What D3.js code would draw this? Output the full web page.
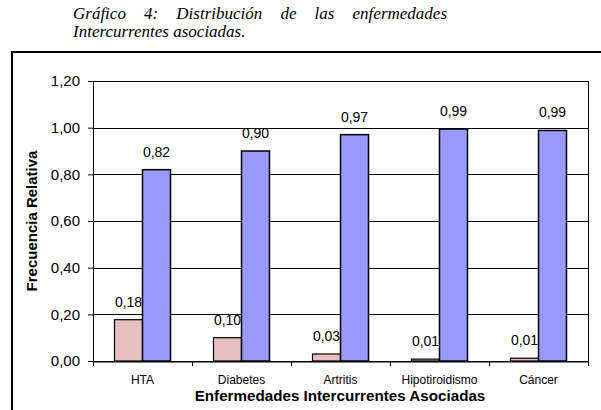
<!DOCTYPE html>
<html>
<head>
<meta charset="utf-8">
<script src="https://cdn.jsdelivr.net/npm/d3@7"></script>
<style>
  body { margin: 0; background: #fff; }
  svg { display: block; }
  .sans { font-family: Arial, "Liberation Sans", Helvetica, sans-serif; }
  .serif { font-family: "Times New Roman", "Liberation Serif", Times, serif; font-style: italic; }
</style>
</head>
<body>
<svg id="chart" width="601" height="410"></svg>
<script>
// datos del gráfico
var categorias = ["HTA", "Diabetes", "Artritis", "Hipotiroidismo", "Cáncer"];
var serieA = [0.177, 0.10, 0.03, 0.008, 0.012];
var serieB = [0.82, 0.90, 0.97, 0.994, 0.988];
var yTicks = [0, 0.2, 0.4, 0.6, 0.8, 1.0, 1.2];
var tituloLinea1 = ["Gráfico", "4:", "Distribución", "de", "las", "enfermedades"];
var tituloLinea2 = "Intercurrentes asociadas.";

var svg = d3.select("#chart"),
    margin = {top: 81, right: 13, bottom: 49, left: 93},
    width = +svg.attr("width") - margin.left - margin.right,
    height = +svg.attr("height") - margin.top - margin.bottom;

// titulo (justificado)
var t1 = svg.append("g").attr("class", "serif").style("font-size", "17px");
var words = t1.selectAll("text").data(tituloLinea1).enter().append("text")
    .attr("y", 19)
    .text(function(d) { return d; });
var lens = [];
words.each(function() { lens.push(this.getComputedTextLength()); });
var x0 = 73, x1 = 447;
var total = d3.sum(lens);
var gap = (x1 - x0 - total) / (lens.length - 1);
var acc = x0;
words.attr("x", function(d, i) { var x = acc; acc += lens[i] + gap; return x; });
t1.append("text").attr("x", x0).attr("y", 37).text(tituloLinea2);

// marco exterior
svg.append("rect")
    .attr("x", 12).attr("y", 52)
    .attr("width", 620).attr("height", 400)
    .style("fill", "none").style("stroke", "#000").style("stroke-width", 2);

var xScale = d3.scaleBand().domain(categorias).range([0, width]),
    yScale = d3.scaleLinear().domain([0, 1.2]).range([height, 0]);

var g = svg.append("g").attr("transform", "translate(" + margin.left + "," + margin.top + ")");

var fmt = function(v) { return d3.format(".2f")(v).replace(".", ","); };

// grid
g.selectAll("line.horizontalGrid").data(yTicks).enter()
  .append("line")
    .attr("class", "horizontalGrid")
    .attr("x1", 0).attr("x2", width)
    .attr("y1", function(d) { return Math.round(yScale(d)) + 0.5; })
    .attr("y2", function(d) { return Math.round(yScale(d)) + 0.5; })
    .style("stroke", "#000").style("stroke-width", 1);

// borde derecho del área
g.append("line")
    .attr("x1", width + 0.5).attr("x2", width + 0.5)
    .attr("y1", 0).attr("y2", height + 5)
    .style("stroke", "#000");

// eje Y
var yAxis = g.append("g")
    .call(d3.axisLeft(yScale).tickValues(yTicks).tickSize(5).tickPadding(8).tickFormat(fmt));
yAxis.attr("font-family", null).attr("font-size", null).attr("class", "sans");
yAxis.select(".domain").attr("d", "M0.5," + (height + 5) + "V0");
yAxis.selectAll("line").style("stroke", "#000");
yAxis.selectAll("text").style("font-size", "15px").style("fill", "#000");

// eje X
var xAxis = g.append("g")
    .attr("transform", "translate(0," + (height + 0.5) + ")")
    .call(d3.axisBottom(xScale).tickSize(0).tickPadding(14));
xAxis.attr("font-family", null).attr("font-size", null).attr("class", "sans");
xAxis.select(".domain").style("stroke", "#000");
xAxis.selectAll("text").style("font-size", "12px").style("fill", "#000");
g.selectAll("line.xtick").data(categorias).enter()
  .append("line")
    .attr("x1", function(d) { return Math.round(xScale(d) + xScale.bandwidth()) + 0.5; })
    .attr("x2", function(d) { return Math.round(xScale(d) + xScale.bandwidth()) + 0.5; })
    .attr("y1", height).attr("y2", height + 5)
    .style("stroke", "#000");

var barW = 28;

// barras serie A (rosa)
g.selectAll("rect.a").data(serieA).enter()
  .append("rect")
    .attr("x", function(d, i) { return xScale(categorias[i]) + xScale.bandwidth() / 2 - barW; })
    .attr("y", function(d) { return yScale(d); })
    .attr("width", barW)
    .attr("height", function(d) { return height - yScale(d); })
    .style("fill", "#e6c0c0").style("stroke", "#000").style("stroke-width", 1.2);

// barras serie B (azul)
g.selectAll("rect.b").data(serieB).enter()
  .append("rect")
    .attr("x", function(d, i) { return xScale(categorias[i]) + xScale.bandwidth() / 2; })
    .attr("y", function(d) { return yScale(d); })
    .attr("width", barW)
    .attr("height", function(d) { return height - yScale(d); })
    .style("fill", "#9999ff").style("stroke", "#000").style("stroke-width", 1.5);

// etiquetas de datos
g.selectAll("text.la").data(serieA).enter()
  .append("text")
    .attr("class", "sans")
    .attr("x", function(d, i) { return xScale(categorias[i]) + xScale.bandwidth() / 2 - barW / 2; })
    .attr("y", function(d) { return yScale(d) - 13; })
    .attr("text-anchor", "middle")
    .style("font-size", "14px")
    .text(fmt);
g.selectAll("text.lb").data(serieB).enter()
  .append("text")
    .attr("class", "sans")
    .attr("x", function(d, i) { return xScale(categorias[i]) + xScale.bandwidth() / 2 + barW / 2; })
    .attr("y", function(d) { return yScale(d) - 13; })
    .attr("text-anchor", "middle")
    .style("font-size", "14px")
    .text(fmt);

// titulos de ejes
svg.append("text")
    .attr("class", "sans")
    .attr("x", 340).attr("y", 401)
    .attr("text-anchor", "middle")
    .style("font-weight", "bold").style("font-size", "15.2px")
    .text("Enfermedades Intercurrentes Asociadas");
svg.append("text")
    .attr("class", "sans")
    .attr("text-anchor", "middle")
    .attr("transform", "translate(37,221)rotate(-90)")
    .style("font-weight", "bold").style("font-size", "15px")
    .text("Frecuencia Relativa");
</script>
</body>
</html>
